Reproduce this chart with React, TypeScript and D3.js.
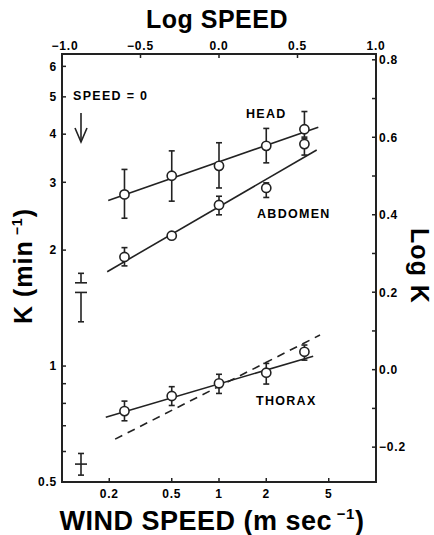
import React from "react";
import * as d3 from "d3";

// ---- data ----
const speeds = [0.25, 0.5, 1, 2, 3.5];
const headK = [2.79, 3.12, 3.31, 3.73, 4.12];
const headHi = [3.24, 3.62, 3.8, 4.14, 4.58];
const headLo = [2.42, 2.68, 2.9, 3.37, 3.93];
const abdK = [1.92, 2.18, 2.62, 2.9, 3.77];
const abdHi = [2.03, 2.18, 2.76, 2.99, 3.89];
const abdLo = [1.82, 2.18, 2.47, 2.74, 3.53];
const thxK = [0.764, 0.836, 0.902, 0.961, 1.089];
const thxHi = [0.811, 0.884, 0.952, 1.016, 1.134];
const thxLo = [0.721, 0.79, 0.849, 0.898, 1.036];

// speed = 0 measurements
const zeroMean = [1.645, 1.553, 0.5565];
const zeroHi = [1.741, 1.553, 0.593];
const zeroLo = [1.645, 1.303, 0.521];

// fitted lines (speed, K endpoints)
const headFitSpeed = [0.197, 4.29];
const headFitK = [2.69, 4.17];
const abdFitSpeed = [0.194, 4.19];
const abdFitK = [1.758, 3.64];
const thxFitSpeed = [0.19, 3.98];
const thxFitK = [0.736, 1.061];
const thxDashSpeed = [0.218, 4.4];
const thxDashK = [0.646, 1.204];

// ticks
const leftMajor = [0.5, 1, 2, 3, 4, 5, 6];
const leftLabels = ["0.5", "1", "2", "3", "4", "5", "6"];
const leftMinor = [0.6, 0.7, 0.8, 0.9];
const bottomTicks = [0.2, 0.5, 1, 2, 5];
const bottomLabels = ["0.2", "0.5", "1", "2", "5"];
const topTicks = [-1, -0.5, 0, 0.5, 1];
const topLabels = ["\u22121.0", "\u22120.5", "0.0", "0.5", "1.0"];
const rightTicks = [-0.2, -0.1, 0, 0.1, 0.2, 0.3, 0.4, 0.5, 0.6, 0.7, 0.8];
const rightLabels = [-0.2, 0, 0.2, 0.4, 0.6, 0.8];

const W = 434;
const H = 535;
const L = 62, R = 376, T = 54, B = 482;
const FONT = "'Liberation Sans', Arial, Helvetica, sans-serif";

export default function App() {
  const x = d3.scaleLog().domain([0.1, 10]).range([L, R]);
  const xTop = d3.scaleLinear().domain([-1, 1]).range([L, R]);
  const y = d3.scaleLog().domain([0.5, 6.46]).range([B, T]);
  const yR = d3.scaleLinear().domain([-0.29, 0.815]).range([B, T]);
  const x0 = L + 19;
  const line = d3.line<[number, number]>().x((d) => x(d[0])).y((d) => y(d[1]));
  const fit = (s: number[], k: number[]) => line([[s[0], k[0]], [s[1], k[1]]]) || "";

  const sw = 1.6;
  const cap = 3;
  const r = 4.6;

  const series = [
    { k: headK, hi: headHi, lo: headLo },
    { k: abdK, hi: abdHi, lo: abdLo },
    { k: thxK, hi: thxHi, lo: thxLo },
  ];

  const tickFont = { fontFamily: FONT, fontSize: 12, fontWeight: 700, letterSpacing: 0.8 } as const;
  const lblFont = { fontFamily: FONT, fontSize: 12.5, fontWeight: 700, letterSpacing: 1.3 } as const;

  return (
    <svg width={W} height={H} style={{ position: "absolute", left: 0, top: 0, background: "#fff" }}>
      <rect x={0} y={0} width={W} height={H} fill="#fff" />
      {/* fitted lines */}
      <g stroke="#222" strokeWidth={sw} fill="none">
        <path d={fit(headFitSpeed, headFitK)} />
        <path d={fit(abdFitSpeed, abdFitK)} />
        <path d={fit(thxFitSpeed, thxFitK)} />
        <path d={fit(thxDashSpeed, thxDashK)} strokeDasharray="8,6" />
      </g>
      {/* error bars and points */}
      {series.map((s, si) => (
        <g key={si} stroke="#222" strokeWidth={sw}>
          {speeds.map((sp, i) => {
            const cx = x(sp);
            const yh = y(s.hi[i]);
            const yl = y(s.lo[i]);
            return (
              <g key={i}>
                <line x1={cx} x2={cx} y1={yh} y2={yl} />
                {s.hi[i] > s.k[i] && <line x1={cx - cap} x2={cx + cap} y1={yh} y2={yh} />}
                {s.lo[i] < s.k[i] && <line x1={cx - cap} x2={cx + cap} y1={yl} y2={yl} />}
                <circle cx={cx} cy={y(s.k[i])} r={r} fill="#fff" />
              </g>
            );
          })}
        </g>
      ))}
      {/* speed = 0 markers */}
      <g stroke="#222" strokeWidth={sw}>
        {zeroMean.map((m, i) => (
          <g key={i}>
            <line x1={x0} x2={x0} y1={y(zeroHi[i])} y2={y(zeroLo[i])} />
            <line x1={x0 - 6} x2={x0 + 6} y1={y(m)} y2={y(m)} />
            {zeroHi[i] > m && <line x1={x0 - cap} x2={x0 + cap} y1={y(zeroHi[i])} y2={y(zeroHi[i])} />}
            {zeroLo[i] < m && <line x1={x0 - cap} x2={x0 + cap} y1={y(zeroLo[i])} y2={y(zeroLo[i])} />}
          </g>
        ))}
        {/* arrow */}
        <line x1={x0} x2={x0} y1={113} y2={142} />
        <polyline points={`${x0 - 6},${128} ${x0},${142} ${x0 + 6},${128}`} fill="none" />
      </g>
      <text x={73} y={100} {...lblFont}>SPEED = 0</text>
      <text x={246} y={118} {...lblFont}>HEAD</text>
      <text x={257} y={218} {...lblFont}>ABDOMEN</text>
      <text x={256} y={405} {...lblFont}>THORAX</text>

      {/* frame */}
      <rect x={L} y={T} width={R - L} height={B - T} fill="none" stroke="#222" strokeWidth={2} />

      {/* left axis */}
      <g stroke="#222" strokeWidth={1.5}>
        {leftMajor.concat(leftMinor).map((v) => (
          <line key={v} x1={L} x2={L + 4} y1={y(v)} y2={y(v)} />
        ))}
      </g>
      {leftMajor.map((v, i) => (
        <text key={v} x={L - 5} y={y(v)} dy="0.36em" textAnchor="end" {...tickFont}>{leftLabels[i]}</text>
      ))}
      {/* right axis */}
      <g stroke="#222" strokeWidth={1.5}>
        {rightTicks.map((v) => (
          <line key={v} x1={R - 4} x2={R} y1={yR(v)} y2={yR(v)} />
        ))}
      </g>
      {rightLabels.map((v) => (
        <text key={v} x={R + 3} y={yR(v)} dy="0.36em" textAnchor="start" {...tickFont}>
          {d3.format(".1f")(v).replace("-", "\u2212")}
        </text>
      ))}
      {/* bottom axis */}
      <g stroke="#222" strokeWidth={1.5}>
        {bottomTicks.map((v) => (
          <line key={v} x1={x(v)} x2={x(v)} y1={B} y2={B - 4} />
        ))}
      </g>
      {bottomTicks.map((v, i) => (
        <text key={v} x={x(v)} y={498} textAnchor="middle" {...tickFont}>{bottomLabels[i]}</text>
      ))}
      {/* top axis */}
      <g stroke="#222" strokeWidth={1.5}>
        {topTicks.slice(1, -1).map((v) => (
          <line key={v} x1={xTop(v)} x2={xTop(v)} y1={T} y2={T + 4} />
        ))}
      </g>
      {topTicks.map((v, i) => (
        <text key={v} x={xTop(v) + (i === 0 ? 3 : 0)} y={50} textAnchor="middle" {...tickFont}>{topLabels[i]}</text>
      ))}

      {/* titles */}
      <text x={217} y={28} textAnchor="middle" fontFamily={FONT} fontSize={25} fontWeight={700} letterSpacing={0.5}>Log SPEED</text>
      <text x={212} y={530} textAnchor="middle" fontFamily={FONT} fontSize={27} fontWeight={700} letterSpacing={0.5}>
        WIND SPEED (m sec<tspan fontSize={15} dy={-11}> {"\u22121"}</tspan><tspan dy={11}>)</tspan>
      </text>
      <text transform="translate(32,266) rotate(-90)" textAnchor="middle" fontFamily={FONT} fontSize={25} fontWeight={700} letterSpacing={1}>
        K (min<tspan fontSize={14} dy={-10}> {"\u22121"}</tspan><tspan dy={10}>)</tspan>
      </text>
      <text transform="translate(411,266) rotate(90)" textAnchor="middle" fontFamily={FONT} fontSize={25} fontWeight={700} letterSpacing={1}>Log K</text>
    </svg>
  );
}
